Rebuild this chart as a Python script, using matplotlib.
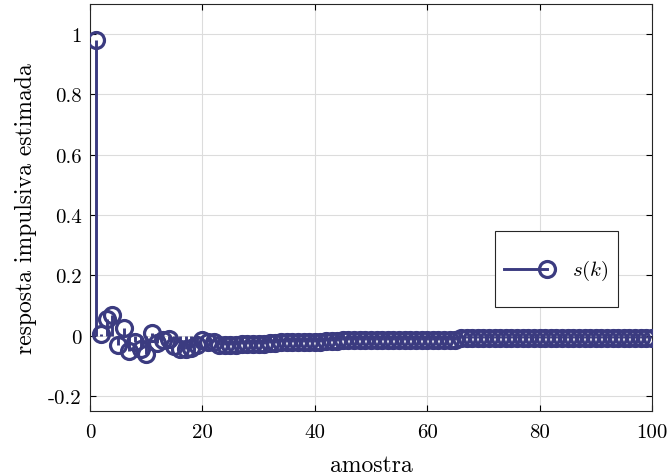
import numpy as np
import matplotlib.pyplot as plt
from matplotlib.lines import Line2D
from matplotlib.legend_handler import HandlerBase

plt.rcParams['font.family'] = 'serif'
plt.rcParams['font.serif'] = ['cmr10']
plt.rcParams['mathtext.fontset'] = 'cm'
plt.rcParams['axes.unicode_minus'] = False
plt.rcParams['axes.formatter.use_mathtext'] = True

# estimated impulse response s(k), k = 1..100
s_first = [0.98, 0.005, 0.055, 0.07, -0.03, 0.025, -0.05, -0.02, -0.045, -0.06,
           0.01, -0.025, -0.015, -0.01, -0.035, -0.045, -0.045, -0.04, -0.03, -0.015]
s_21_40 = [-0.02, -0.022, -0.03, -0.03, -0.031, -0.03, -0.027, -0.027, -0.027, -0.027,
           -0.027, -0.026, -0.026, -0.02, -0.02, -0.02, -0.02, -0.02, -0.02, -0.02]
s_41_60 = [-0.02, -0.019, -0.019, -0.019, -0.013, -0.013, -0.013, -0.013, -0.013, -0.013,
           -0.013, -0.013, -0.013, -0.013, -0.013, -0.013, -0.013, -0.013, -0.013, -0.013]
s_61_80 = [-0.013, -0.013, -0.013, -0.013, -0.013, -0.007, -0.007, -0.007, -0.007, -0.007,
           -0.007, -0.007, -0.007, -0.007, -0.007, -0.007, -0.007, -0.007, -0.007, -0.007]
s_81_100 = [-0.007, -0.007, -0.007, -0.007, -0.007, -0.007, -0.007, -0.007, -0.007, -0.007,
            -0.007, -0.007, -0.007, -0.007, -0.007, -0.007, -0.007, -0.007, -0.007, -0.007]
s = np.array(s_first + s_21_40 + s_41_60 + s_61_80 + s_81_100)
k = np.arange(1, len(s) + 1)

xticks = [0, 20, 40, 60, 80, 100]
yticks = [-0.2, 0, 0.2, 0.4, 0.6, 0.8, 1]
ytick_labels = ['-0.2', '0', '0.2', '0.4', '0.6', '0.8', '1']

col = '#3b3b80'
lw_stem = 2.1
ms = 11.5
mew = 2.3


class StemHandler(HandlerBase):
    # line with the circle at its right end, like a stem lying down
    def create_artists(self, legend, orig_handle, xdescent, ydescent,
                       width, height, fontsize, trans):
        y = (height - ydescent) / 2 - 0.55 * fontsize
        line = Line2D([-xdescent, width - xdescent], [y, y], color=col, lw=lw_stem)
        mark = Line2D([width - xdescent], [y], marker='o', ms=ms, mfc='none',
                      mec=col, mew=mew, ls='none')
        line.set_transform(trans)
        mark.set_transform(trans)
        return [line, mark]


fig = plt.figure(figsize=(6.68, 4.77), dpi=100)
ax = fig.add_axes([0.1347, 0.1363, 0.8413, 0.8532])

ax.vlines(k, 0, s, color=col, lw=lw_stem, zorder=2)
ax.plot(k, s, 'o', ms=ms, mfc='none', mec=col, mew=mew, zorder=3)

ax.set_xlim(0, 100)
ax.set_ylim(-0.25, 1.1)
ax.set_xticks(xticks)
ax.set_xticklabels([str(t) for t in xticks])
ax.set_yticks(yticks)
ax.set_yticklabels(ytick_labels)
ax.tick_params(direction='in', top=True, right=True, labelsize=15, length=4,
               width=0.8)
ax.tick_params(axis='x', pad=9)
ax.tick_params(axis='y', pad=6)
ax.grid(True, color='#dcdcdc', lw=0.8)
ax.set_axisbelow(True)
for sp in ax.spines.values():
    sp.set_linewidth(0.8)
    sp.set_color('#262626')

ax.set_xlabel('amostra', fontsize=17, labelpad=9)
ax.set_ylabel('resposta impulsiva estimada', fontsize=17, labelpad=8)

handle = Line2D([], [], color=col)
leg = ax.legend([handle], [r'$s(k)$'], handler_map={Line2D: StemHandler()},
                loc='center', bbox_to_anchor=(0.83, 0.349), fontsize=15,
                fancybox=False, framealpha=1, edgecolor='#262626',
                borderpad=0.45, handlelength=2.07, handleheight=3.8,
                handletextpad=1.2, borderaxespad=0)
leg.get_frame().set_linewidth(0.8)

fig.savefig('out.png', dpi=100)
